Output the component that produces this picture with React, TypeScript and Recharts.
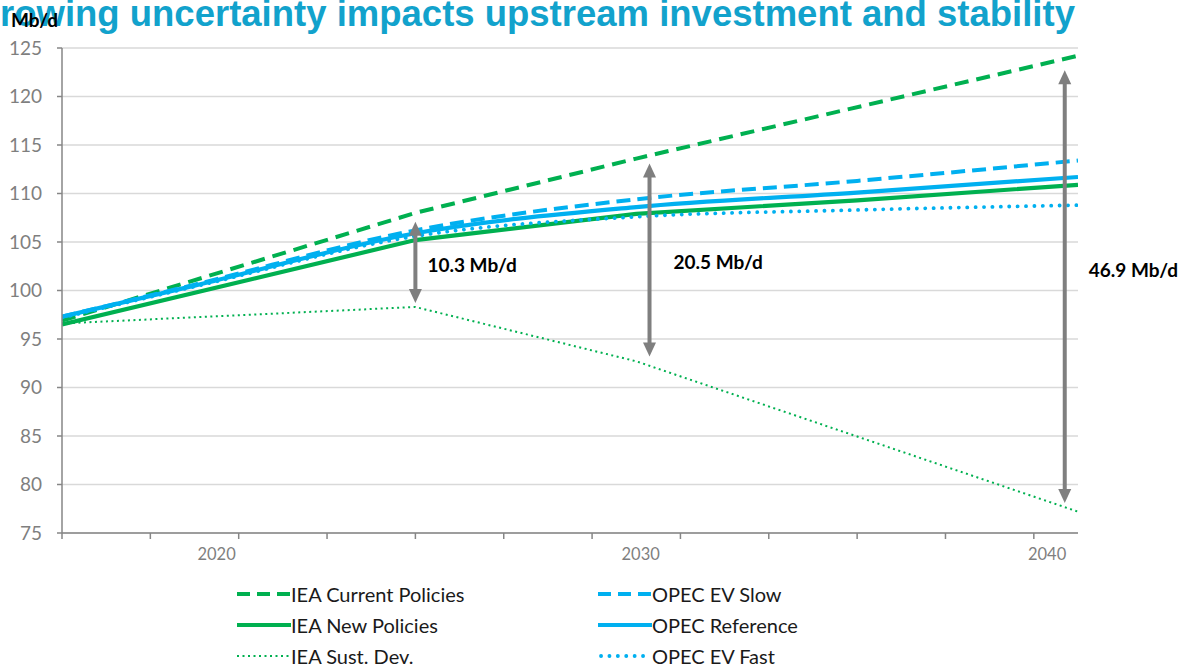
import React from "react";
import {
  LineChart,
  Line,
  XAxis,
  YAxis,
  CartesianGrid,
  Legend,
  ReferenceLine,
  ReferenceDot,
} from "recharts";

// values (Mb/d)
const years = [2017, 2020, 2025, 2030, 2035, 2040];
const ieaCurrent = [96.9, null, 108.0, 113.6, null, 124.2];
const ieaNew = [96.5, null, 105.2, 107.9, 109.3, 110.9];
const ieaSust = [96.6, null, 98.3, 92.7, null, 77.2];
const opecSlow = [97.3, 100.6, 106.2, 109.4, 111.3, 113.4];
const opecRef = [97.3, 100.5, 105.9, 108.6, 110.1, 111.7];
const opecFast = [97.2, 100.4, 105.6, 107.6, 108.3, 108.8];

const yTicks = [75, 80, 85, 90, 95, 100, 105, 110, 115, 120, 125];
const xTickYears = [2017, 2019, 2021, 2023, 2025, 2027, 2029, 2031, 2033, 2035, 2037, 2039];
// where the year labels sit on the date axis
const yearLabels = ["2020", "2030", "2040"];
const yearLabelAt = [2020.5, 2030.1, 2039.3];

// gap arrows between IEA scenarios
const gapYears = [2025, 2030.3, 2039.7];
const gapTop = [107.1, 113.1, 122.7];
const gapBottom = [98.7, 93.2, 78.1];
const gapText = ["10.3 Mb/d", "20.5 Mb/d", "46.9 Mb/d"];
const gapTextAt = [102.6, 102.9, 102.1];
const gapTextDx = [12, 24, 24];

const GREEN = "#00b050";
const BLUE = "#00b0f0";
const GREY = "#7f7f7f";

const data = years.map((year, i) => ({
  year,
  ieaCurrent: ieaCurrent[i],
  ieaNew: ieaNew[i],
  ieaSust: ieaSust[i],
  opecSlow: opecSlow[i],
  opecRef: opecRef[i],
  opecFast: opecFast[i],
}));

const series = [
  { key: "ieaCurrent", name: "IEA Current Policies", color: GREEN, width: 4, dash: "14 8", legendDash: "13 7", cap: "butt", type: "linear" },
  { key: "ieaNew", name: "IEA New Policies", color: GREEN, width: 4.2, dash: undefined, legendDash: undefined, cap: "butt", type: "linear" },
  { key: "ieaSust", name: "IEA Sust. Dev.", color: GREEN, width: 2, dash: "2 3.5", legendDash: "2 3.5", cap: "butt", type: "linear" },
  { key: "opecSlow", name: "OPEC EV Slow", color: BLUE, width: 4, dash: "14 7", legendDash: "13 7", cap: "butt", type: "monotone" },
  { key: "opecRef", name: "OPEC Reference", color: BLUE, width: 4.2, dash: undefined, legendDash: undefined, cap: "butt", type: "monotone" },
  { key: "opecFast", name: "OPEC EV Fast", color: BLUE, width: 3.8, dash: "0.1 8.3", legendDash: "0.1 8.3", cap: "round", type: "monotone" },
];

const legendCols = [237, 598];

function Arrow(props: any) {
  const { x1, y1, y2 } = props;
  const top = Math.min(y1, y2);
  const bottom = Math.max(y1, y2);
  const head = 14;
  return (
    <g>
      <line x1={x1} x2={x1} y1={top + head - 2} y2={bottom - head + 2} stroke={GREY} strokeWidth={4} />
      <polygon points={`${x1},${top} ${x1 - 6.5},${top + head} ${x1 + 6.5},${top + head}`} fill={GREY} />
      <polygon points={`${x1},${bottom} ${x1 - 6.5},${bottom - head} ${x1 + 6.5},${bottom - head}`} fill={GREY} />
    </g>
  );
}

function LegendBox() {
  return (
    <div style={{ position: "relative", width: 1179, height: 93 }}>
      {series.map((s, i) => {
        const col = Math.floor(i / 3);
        const row = i % 3;
        return (
          <div
            key={s.key}
            style={{
              position: "absolute",
              left: legendCols[col],
              top: row * 31,
              height: 30,
              display: "flex",
              alignItems: "center",
              whiteSpace: "nowrap",
            }}
          >
            <svg width={54} height={10}>
              <line
                x1={s.cap === "round" ? 3 : 0}
                x2={s.cap === "round" ? 52 : 54}
                y1={5}
                y2={5}
                stroke={s.color}
                strokeWidth={s.width}
                strokeDasharray={s.legendDash}
                strokeLinecap={s.cap as any}
              />
            </svg>
            <span style={{ fontSize: 20, color: "#1a1a1a" }}>{s.name}</span>
          </div>
        );
      })}
    </div>
  );
}

export default function App() {
  return (
    <div
      style={{
        position: "absolute",
        left: 0,
        top: 0,
        width: 1179,
        height: 664,
        overflow: "hidden",
        background: "#fff",
        fontFamily: "Lato, 'Noto Sans', sans-serif",
      }}
    >
      <div
        style={{
          position: "absolute",
          left: 0,
          top: -4,
          lineHeight: "36px",
          fontSize: 36.5,
          fontWeight: 700,
          fontFamily: "'Liberation Sans', Arial, sans-serif",
          color: "#12a2cc",
          whiteSpace: "nowrap",
        }}
      >
        rowing uncertainty impacts upstream investment and stability
      </div>
      <LineChart width={1179} height={664} data={data} margin={{ top: 48, right: 101, bottom: 93, left: 0 }}>
        <CartesianGrid vertical={false} stroke="#d9d9d9" strokeWidth={1.5} />
        <XAxis
          dataKey="year"
          type="number"
          domain={[2017, 2040]}
          ticks={xTickYears}
          tickFormatter={() => ""}
          height={8}
          tickSize={6}
          axisLine={{ stroke: "#868686", strokeWidth: 1.5 }}
          tickLine={{ stroke: "#868686", strokeWidth: 1.5 }}
          allowDataOverflow
        />
        <XAxis
          xAxisId="labels"
          dataKey="year"
          type="number"
          domain={[2017, 2040]}
          ticks={yearLabelAt}
          tickFormatter={(v: number) => yearLabels[yearLabelAt.indexOf(v)]}
          height={30}
          tickSize={0}
          tickMargin={7}
          axisLine={false}
          tickLine={false}
          tick={{ fill: GREY, fontSize: 16.5 }}
          allowDataOverflow
        />
        <YAxis
          type="number"
          domain={[75, 125]}
          ticks={yTicks}
          width={62}
          tickSize={5}
          tickMargin={15}
          axisLine={{ stroke: "#868686", strokeWidth: 1.5 }}
          tickLine={{ stroke: "#868686", strokeWidth: 1.5 }}
          tick={{ fill: GREY, fontSize: 19 }}
          allowDataOverflow
        />
        {series.map((s) => (
          <Line
            key={s.key}
            dataKey={s.key}
            name={s.name}
            type={s.type as any}
            stroke={s.color}
            strokeWidth={s.width}
            strokeDasharray={s.dash}
            strokeLinecap={s.cap as any}
            dot={false}
            activeDot={false}
            connectNulls
            isAnimationActive={false}
          />
        ))}
        {gapYears.map((yr, i) => (
          <ReferenceLine
            key={`gap-${i}`}
            segment={[
              { x: yr, y: gapTop[i] },
              { x: yr, y: gapBottom[i] },
            ]}
            shape={Arrow}
          />
        ))}
        {gapYears.map((yr, i) => (
          <ReferenceDot
            key={`gapText-${i}`}
            x={yr}
            y={gapTextAt[i]}
            r={0}
            fill="none"
            stroke="none"
            label={{
              value: gapText[i],
              position: "right",
              offset: gapTextDx[i],
              fill: "#000",
              fontSize: 19,
              fontWeight: 700,
            }}
          />
        ))}
        <Legend
          layout="horizontal"
          verticalAlign="middle"
          align="center"
          wrapperStyle={{ top: 579, left: 0, width: 1179 }}
          content={() => <LegendBox />}
        />
      </LineChart>
      <div
        style={{
          position: "absolute",
          left: 11,
          top: 9,
          fontSize: 19,
          fontWeight: 700,
          lineHeight: 1.2,
          color: "#000",
        }}
      >
        Mb/d
      </div>
    </div>
  );
}
